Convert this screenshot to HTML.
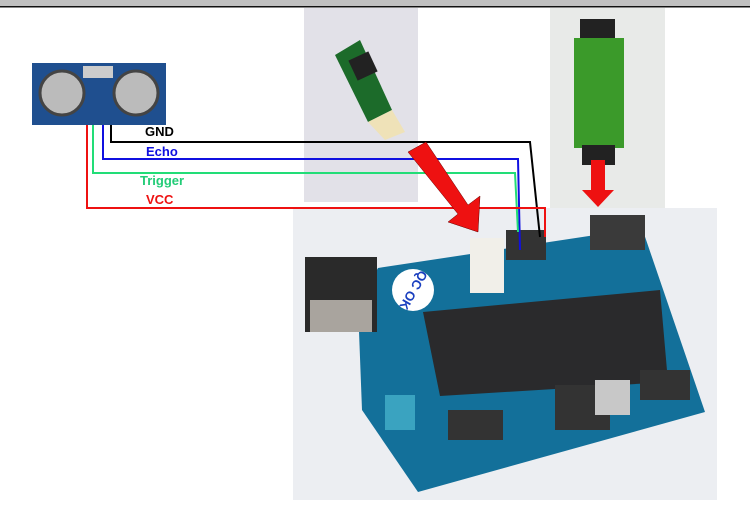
<!DOCTYPE html>
<html><head><style>
html,body{margin:0;padding:0;background:#fff;width:750px;height:517px;overflow:hidden}
svg{display:block}
text{font-family:"Liberation Sans",sans-serif;font-weight:bold;font-size:13px}
</style></head><body>
<svg width="750" height="517" viewBox="0 0 750 517">
<rect x="0" y="0" width="750" height="7" fill="#c0c0c0"/>
<rect x="0" y="6" width="750" height="1.5" fill="#111"/>
<!-- sensor -->
<rect x="32" y="63" width="134" height="62" fill="#1f4f8f"/>
<circle cx="62" cy="93" r="22" fill="#bbb" stroke="#444" stroke-width="3"/>
<circle cx="136" cy="93" r="22" fill="#bbb" stroke="#444" stroke-width="3"/>
<rect x="83" y="66" width="30" height="12" fill="#ccc"/>
<!-- photo 1 -->
<rect x="304" y="8" width="114" height="194" fill="#e2e1e8"/>
<polygon points="335,55 360,40 392,110 368,122" fill="#1c6b2a"/>
<rect x="352" y="55" width="22" height="22" fill="#222" transform="rotate(-25 363 66)"/>
<polygon points="368,122 392,110 405,132 385,140" fill="#efe2b8"/>
<!-- photo 2 -->
<rect x="550" y="8" width="115" height="215" fill="#e8eae8"/>
<rect x="580" y="19" width="35" height="20" fill="#222"/>
<rect x="574" y="38" width="50" height="110" fill="#3b9a2a"/>
<rect x="582" y="145" width="33" height="20" fill="#222"/>
<!-- board photo -->
<rect x="293" y="208" width="424" height="292" fill="#eceef2"/>
<polygon points="378,268 642,228 705,412 418,492 362,410 358,305" fill="#13709a"/>
<rect x="305" y="257" width="72" height="75" fill="#2a2a2a"/>
<rect x="310" y="300" width="62" height="32" fill="#a9a49e"/>
<polygon points="423,312 660,290 668,382 440,396" fill="#2a2a2c"/>
<rect x="470" y="238" width="34" height="55" fill="#f1efe9"/>
<circle cx="413" cy="290" r="21" fill="#fff"/>
<text x="413" y="294" fill="#1a3fbf" font-size="12" text-anchor="middle" transform="rotate(120 413 290)">QC OK</text>
<rect x="385" y="395" width="30" height="35" fill="#3aa3c0"/>
<rect x="555" y="385" width="55" height="45" fill="#333"/>
<rect x="595" y="380" width="35" height="35" fill="#c8c8c8"/>
<rect x="506" y="230" width="40" height="30" fill="#333"/>
<rect x="590" y="215" width="55" height="35" fill="#3a3a3a"/>
<rect x="448" y="410" width="55" height="30" fill="#333"/>
<rect x="640" y="370" width="50" height="30" fill="#333"/>
<!-- wires -->
<g fill="none" stroke-width="2">
<polyline points="111,125 111,142 530,142 540,237" stroke="#000"/>
<polyline points="103,125 103,159 518,159 520,250" stroke="#1010e0"/>
<polyline points="93,125 93,173 515,173 518,232" stroke="#22dd77"/>
<polyline points="87,125 87,208 545,208 545,237" stroke="#ee1111"/>
</g>
<text x="145" y="136" fill="#000">GND</text>
<text x="146" y="156" fill="#1010e0">Echo</text>
<text x="140" y="185" fill="#22cc77">Trigger</text>
<text x="146" y="204" fill="#ee1111">VCC</text>
<!-- arrows -->
<polygon points="408,152 426,142 468,205 480,196 478,232 448,222 458,214" fill="#ee1111" stroke="#600" stroke-width="0.5"/>
<polygon points="591,160 605,160 605,190 614,190 598,207 582,190 591,190" fill="#ee1111"/>
</svg>
</body></html>
